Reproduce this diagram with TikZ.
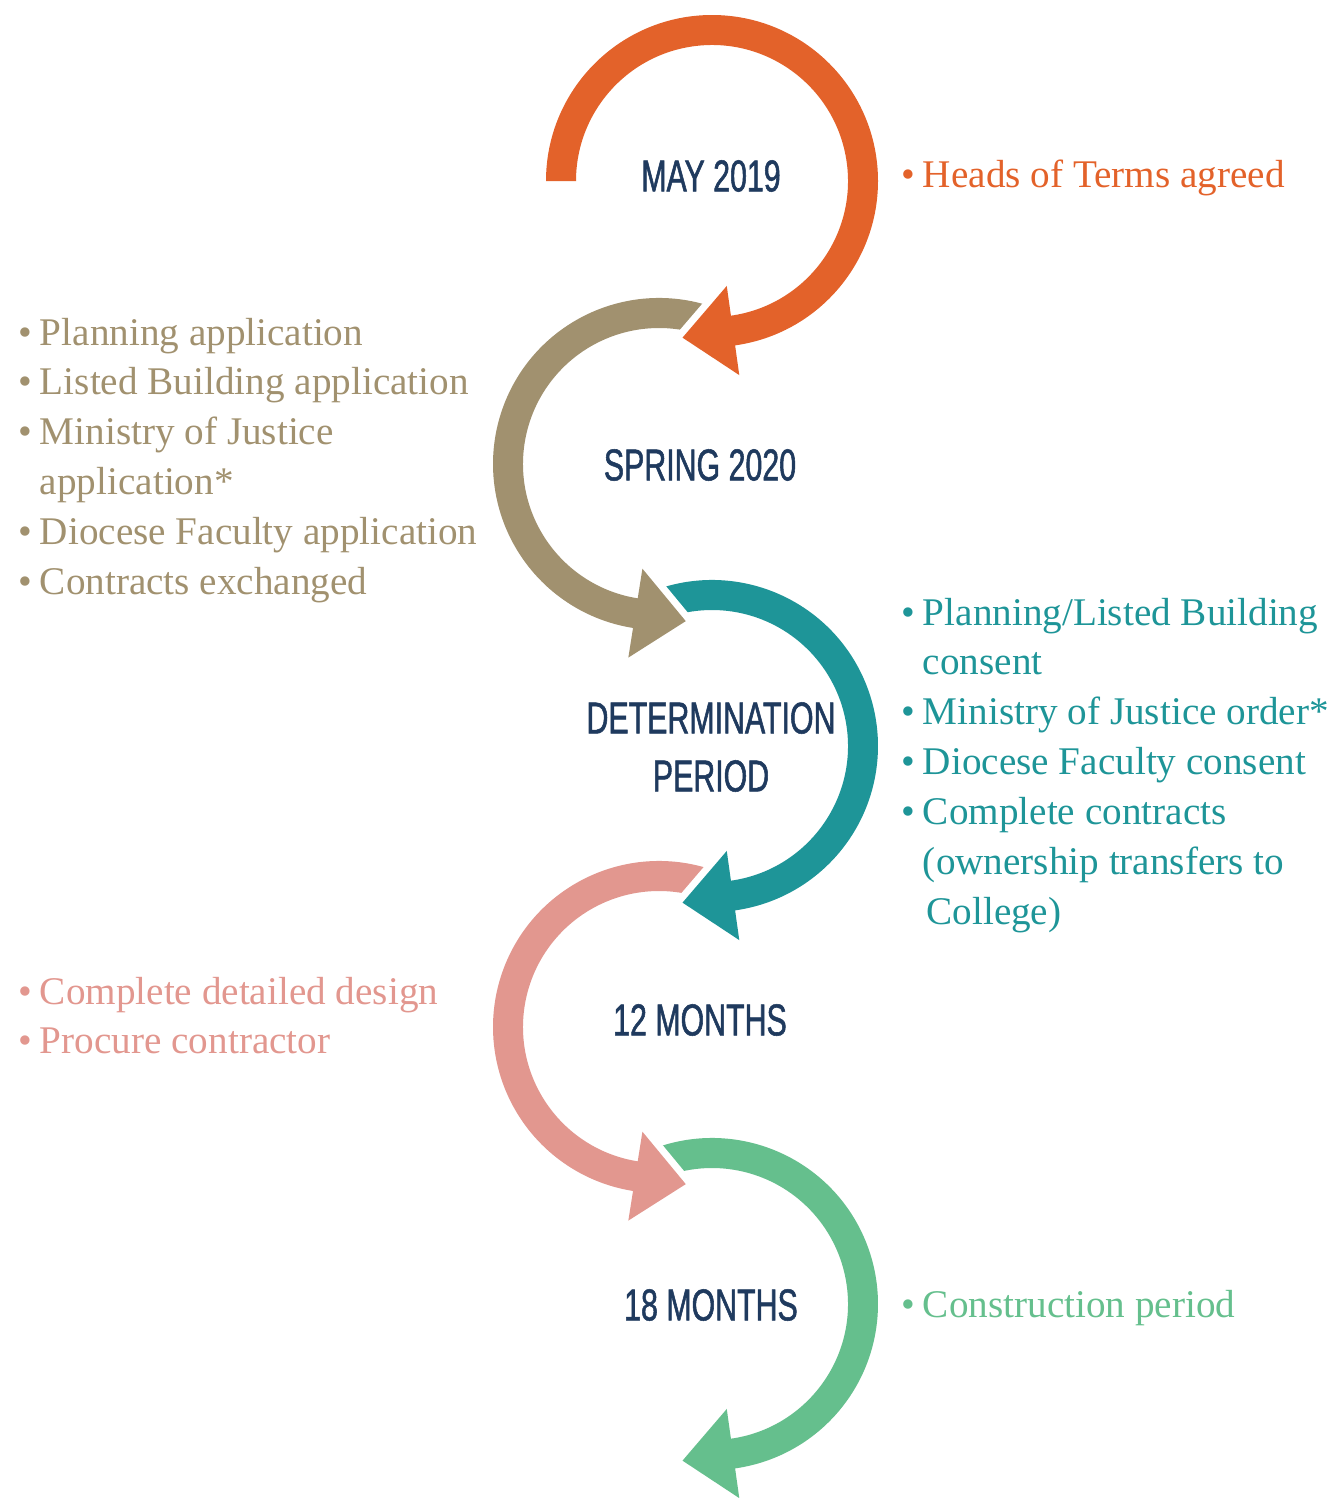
\documentclass[tikz,border=0pt]{standalone}
\usepackage{fontspec}
\setmainfont{Liberation Serif}
\newfontfamily\headfont[FakeStretch=0.68,FakeBold=1.2]{Liberation Sans}
\usetikzlibrary{calc,positioning}
\definecolor{termsorange}{HTML}{E3622A}
\definecolor{apptan}{HTML}{A1916F}
\definecolor{consentteal}{HTML}{1E9598}
\definecolor{designpink}{HTML}{E2978F}
\definecolor{buildgreen}{HTML}{65BF8D}
\definecolor{headnavy}{HTML}{1F3A5E}
% centre, start angle, end angle, turn (-1 cw, 1 ccw), colour
\newcommand{\stagearrow}[5]{%
  \fill[#5,preaction={draw=white,line width=8pt,line join=round}]
    ($(#1)+(#2:166)$) arc[start angle=#2,end angle=#3,radius=166]
    -- ($(#1)+(#3:196)$) -- ($(#1)+(#3:151)+({#3+#4*90}:51)$)
    -- ($(#1)+(#3:106)$) -- ($(#1)+(#3:136)$)
    arc[start angle=#3,end angle=#2,radius=136] -- cycle;}
\newcommand{\itemtab}[1]{\begin{tabular}[t]{@{}l@{\hspace{4.5pt}}l@{}}#1\end{tabular}}
\begin{document}
\begin{tikzpicture}[x=0.02cm,y=0.02cm]
  \tikzstyle{stage}=[inner sep=0pt,text=headnavy,align=center,font=\headfont\fontsize{25.4pt}{33pt}\selectfont]
  \tikzstyle{itemlist}=[anchor=base west,inner sep=0pt,font=\fontsize{22.3pt}{28.45pt}\selectfont]
  \useasboundingbox (0,0) rectangle (1335,-1498);

  \coordinate (c1) at (712,-181);
  \coordinate (c2) at (659,-464);
  \coordinate (c3) at (712,-746);
  \coordinate (c4) at (659,-1027);
  \coordinate (c5) at (712,-1304);

  \stagearrow{c5}{112}{-82}{-1}{buildgreen}
  \stagearrow{c4}{70}{261}{1}{designpink}
  \stagearrow{c3}{112}{-82}{-1}{consentteal}
  \stagearrow{c2}{70}{261}{1}{apptan}
  \stagearrow{c1}{180}{-82}{-1}{termsorange}

  \node[stage] (may) at (711,-176) {MAY 2019};
  \node[stage] (spring) at (700,-465) {SPRING 2020};
  \node[stage] (determ) at (711,-747) {DETERMINATION\\PERIOD};
  \node[stage] (twelve) at (700,-1020) {12 MONTHS};
  \node[stage] (eighteen) at (711,-1305) {18 MONTHS};

  \node[itemlist,text=termsorange] (terms) at (901,-187)
    {\itemtab{\textbullet & Heads of Terms agreed}};
  \node[itemlist,text=apptan] (apps) at (18,-345)
    {\itemtab{\textbullet & Planning application\\
      \textbullet & Listed Building application\\
      \textbullet & Ministry of Justice\\
      & application*\\
      \textbullet & Diocese Faculty application\\
      \textbullet & Contracts exchanged}};
  \node[itemlist,text=consentteal] (consents) at (901,-625)
    {\itemtab{\textbullet & Planning/Listed Building\\
      & consent\\
      \textbullet & Ministry of Justice order*\\
      \textbullet & Diocese Faculty consent\\
      \textbullet & Complete contracts\\
      & (ownership transfers to\\
      & \hspace{2pt}College)}};
  \node[itemlist,text=designpink] (design) at (18,-1004)
    {\itemtab{\textbullet & Complete detailed design\\
      \textbullet & Procure contractor}};
  \node[itemlist,text=buildgreen] (build) at (901,-1317)
    {\itemtab{\textbullet & Construction period}};
\end{tikzpicture}
\end{document}
